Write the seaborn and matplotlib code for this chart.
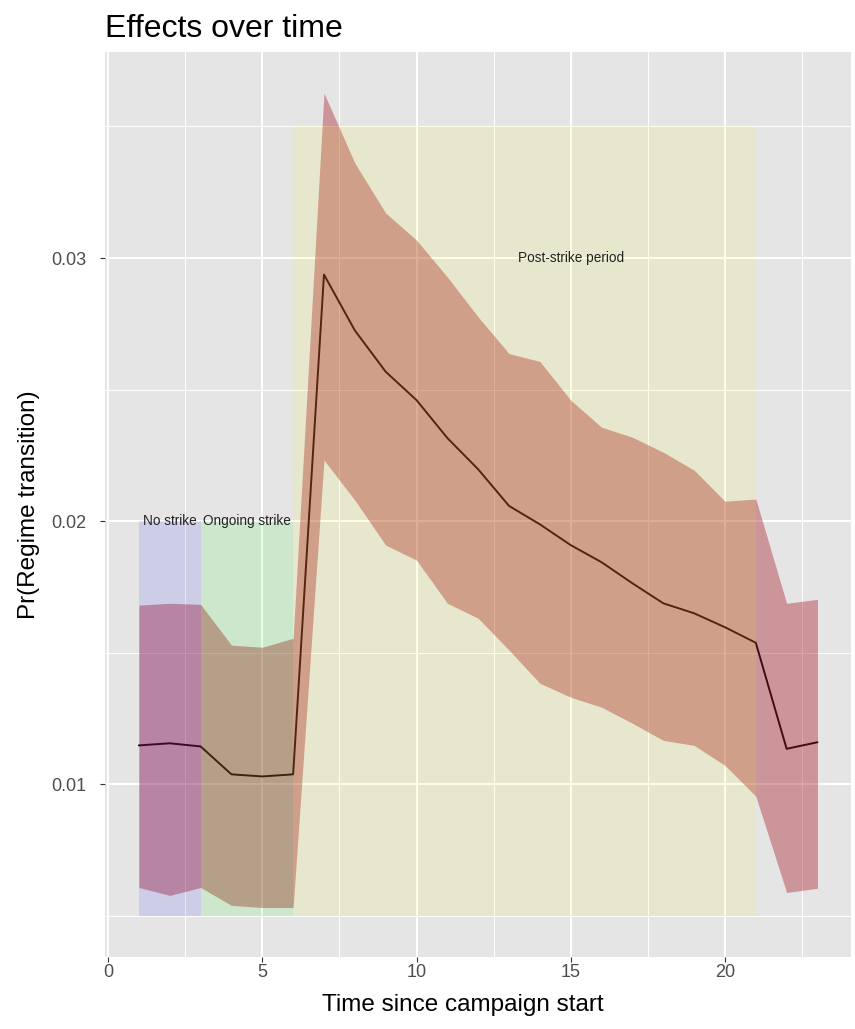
import matplotlib
matplotlib.use("Agg")
import numpy as np
import pandas as pd
import seaborn as sns
import matplotlib.pyplot as plt
from matplotlib.ticker import MultipleLocator

# ---- data ----
time = list(range(1, 24))
estimate = [0.01148, 0.01156, 0.01144, 0.01038, 0.01030, 0.01038, 0.02937,
            0.02725, 0.02568, 0.02460, 0.02316, 0.02197, 0.02058, 0.01988,
            0.01909, 0.01844, 0.01764, 0.01688, 0.01650, 0.01597, 0.01538,
            0.01135, 0.01160]
lower = [0.00608, 0.00578, 0.00608, 0.00540, 0.00532, 0.00532, 0.02232,
         0.02080, 0.01909, 0.01852, 0.01688, 0.01631, 0.01510, 0.01384,
         0.01331, 0.01293, 0.01232, 0.01167, 0.01148, 0.01072, 0.00955,
         0.00589, 0.00605]
upper = [0.01681, 0.01688, 0.01684, 0.01529, 0.01521, 0.01555, 0.03627,
         0.03361, 0.03171, 0.03068, 0.02928, 0.02776, 0.02637, 0.02607,
         0.02460, 0.02357, 0.02319, 0.02262, 0.02194, 0.02076, 0.02084,
         0.01688, 0.01703]

period_labels = ["No strike", "Ongoing strike", "Post-strike period"]
period_start = [1, 3, 6]
period_end = [3, 6, 21]
period_bottom = [0.005, 0.005, 0.005]
period_top = [0.02, 0.02, 0.035]
label_x = [2, 4.5, 15]
label_y = [0.02, 0.02, 0.03]
period_colors = ["#0000FF", "#00FF00", "#FFFF00"]

x_ticks = [0, 5, 10, 15, 20]
y_ticks = [0.01, 0.02, 0.03]
y_ticklabels = ["0.01", "0.02", "0.03"]

df = pd.DataFrame({"time": time, "estimate": estimate, "lower": lower, "upper": upper})

# ---- style ----
sns.set_theme(style="darkgrid", rc={
    "axes.facecolor": "#E5E5E5",
    "grid.color": "white",
    "axes.edgecolor": "none",
})
plt.rcParams["font.family"] = ["Liberation Sans", "DejaVu Sans"]

fig = plt.figure(figsize=(8.55, 10.29), dpi=100)
ax = fig.add_axes([0.1228, 0.0700, 0.873, 0.8795])

# line (drawn beneath ribbon)
sns.lineplot(data=df, x="time", y="estimate", ax=ax, color="black",
             linewidth=1.4, zorder=2)
# ribbon
ax.fill_between(df["time"], df["lower"], df["upper"], color="#A61F29",
                alpha=0.4, linewidth=0, zorder=3)
# period rectangles
for s, e, b, t, c in zip(period_start, period_end, period_bottom, period_top, period_colors):
    ax.fill_between([s, e], [b, b], [t, t], color=c, alpha=0.1, linewidth=0, zorder=4)
for lx, ly, lab in zip(label_x, label_y, period_labels):
    ax.text(lx, ly, lab, ha="center", va="center", fontsize=9.8,
            color="#222222", zorder=5)

# axes
ax.set_xlim(-0.1, 24.1)
ax.set_ylim(0.00344, 0.03783)
ax.set_xticks(x_ticks)
ax.set_yticks(y_ticks)
ax.set_yticklabels(y_ticklabels)
ax.xaxis.set_minor_locator(MultipleLocator(2.5))
ax.yaxis.set_minor_locator(MultipleLocator(0.005))
ax.grid(which="major", color="white", linewidth=1.4)
ax.grid(which="minor", color="white", linewidth=0.7)
ax.set_axisbelow(True)
ax.tick_params(axis="both", which="major", length=3.5, width=0.8,
               color="#333333", labelcolor="#4D4D4D", labelsize=13,
               bottom=True, left=True)
ax.tick_params(axis="x", which="major", pad=1.5)
ax.tick_params(axis="y", which="major", pad=10)
ax.tick_params(which="minor", length=0)

ax.set_xlabel("Time since campaign start", fontsize=17.5, color="black")
ax.xaxis.set_label_coords(0.48, -0.041, transform=ax.transAxes)
ax.xaxis.label.set_va("top")
ax.set_ylabel("Pr(Regime transition)", fontsize=17.5, color="black", labelpad=8)
ax.set_title("Effects over time", fontsize=23, loc="left", pad=11, color="black")
for sp in ax.spines.values():
    sp.set_visible(False)

fig.savefig("out.png", dpi=100)
